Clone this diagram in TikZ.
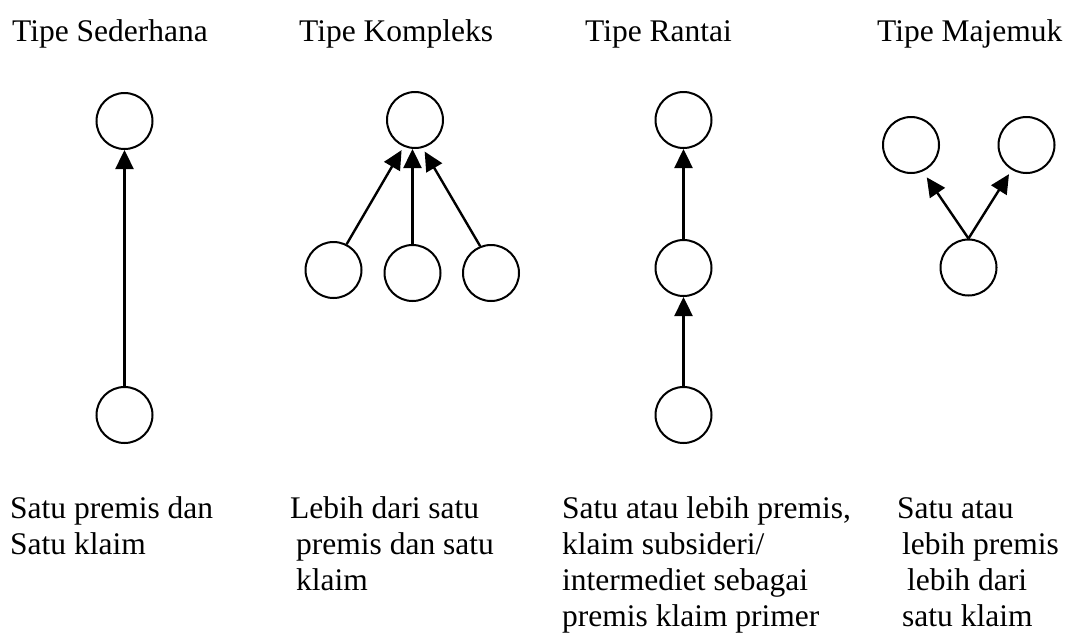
\documentclass[tikz,border=0pt]{standalone}
\usepackage{fontspec}
\setmainfont{Liberation Serif}
\usetikzlibrary{arrows.meta,calc}
\begin{document}
\begin{tikzpicture}[x=1pt,y=-1pt,
  circ/.style={circle,draw,line width=2pt,minimum size=56pt,inner sep=0pt},
  conn/.style={line width=2.4pt,-{Triangle[width=18pt,length=19pt]}},
  lbl/.style={anchor=base west,inner sep=0pt,font=\fontsize{31.5}{36}\selectfont}]
\useasboundingbox (0,0) rectangle (1068,635);
% titles
\node[lbl] (t1) at (12,41) {Tipe Sederhana};
\node[lbl] (t2) at (299,41) {Tipe Kompleks};
\node[lbl] (t3) at (585,41) {Tipe Rantai};
\node[lbl] (t4) at (877,41) {Tipe Majemuk};
% Sederhana
\node[circ] (s1) at (124.5,121) {};
\node[circ] (s2) at (124.5,415) {};
\draw[conn] (s2) -- (s1);
% Kompleks
\node[circ] (k0) at (415,120) {};
\node[circ] (k1) at (333.5,270) {};
\node[circ] (k2) at (412.5,273) {};
\node[circ] (k3) at (491,273) {};
\draw[conn] (k1.63) -- ($(k0)+(114:33)$);
\draw[conn] (k2.north) -- (k2.north |- k0.south);
\draw[conn] (k3.112) -- ($(k0)+(73:33)$);
% Rantai
\node[circ] (r1) at (683.5,120) {};
\node[circ] (r2) at (683.5,268) {};
\node[circ] (r3) at (683.5,415) {};
\draw[conn] (r2) -- (r1);
\draw[conn] (r3) -- (r2);
% Majemuk
\node[circ] (m1) at (911,145) {};
\node[circ] (m2) at (1026.5,145) {};
\node[circ] (m3) at (968.5,267.5) {};
\coordinate (mt) at (m3.north);
\draw[conn] (mt) -- ($(m1)+(64:36)$);
\draw[conn] (mt) -- ($(m2)+(121:34)$);
% bottom texts
\node[lbl] (a1) at (10,518) {Satu premis dan};
\node[lbl] (a2) at (10,554) {Satu klaim};
\node[lbl] (b1) at (290,518) {Lebih dari satu};
\node[lbl] (b2) at (296,554) {premis dan satu};
\node[lbl] (b3) at (296,590) {klaim};
\node[lbl] (c1) at (562,518) {Satu atau lebih premis,};
\node[lbl] (c2) at (562,554) {klaim subsideri/};
\node[lbl] (c3) at (562,590) {intermediet sebagai};
\node[lbl] (c4) at (562,626) {premis klaim primer};
\node[lbl] (d1) at (897,518) {Satu atau};
\node[lbl] (d2) at (902,554) {lebih premis};
\node[lbl] (d3) at (907,590) {lebih dari};
\node[lbl] (d4) at (902,626) {satu klaim};
\end{tikzpicture}
\end{document}
